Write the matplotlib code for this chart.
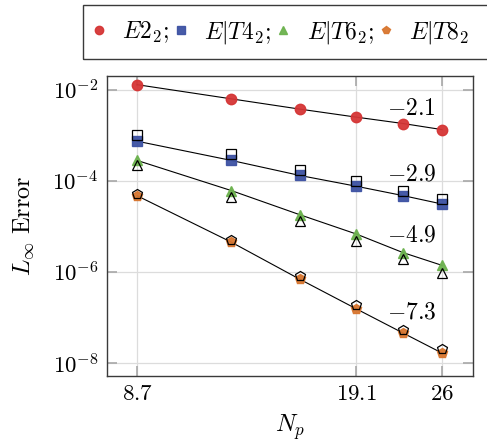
import matplotlib
matplotlib.use('Agg')
import matplotlib.pyplot as plt
from matplotlib.ticker import FixedLocator, FixedFormatter, NullLocator
from matplotlib.patches import Rectangle

plt.rcParams['mathtext.fontset'] = 'cm'
plt.rcParams['font.family'] = 'serif'
plt.rcParams['font.serif'] = ['cmr10', 'DejaVu Serif']

# number of points per direction
n_p = [8.7, 12.2, 15.6, 19.1, 22.6, 26.0]

# L-infinity errors
e2 = [1.29e-2, 6.3e-3, 3.75e-3, 2.5e-3, 1.81e-3, 1.33e-3]
et4 = [7.4e-4, 2.8e-4, 1.31e-4, 7.6e-5, 4.73e-5, 3.09e-5]
et6 = [2.8e-4, 6.1e-5, 1.8e-5, 6.8e-6, 2.65e-6, 1.39e-6]
et8 = [4.7e-5, 4.5e-6, 6.9e-7, 1.55e-7, 4.55e-8, 1.65e-8]

# reference runs (open markers)
et4_ref = [1.0e-3, 3.8e-4, 1.7e-4, 9.7e-5, 5.9e-5, 3.9e-5]
et6_ref = [2.18e-4, 4.5e-5, 1.28e-5, 4.7e-6, 1.96e-6, 9.6e-7]
et8_ref = [5.0e-5, 5.0e-6, 8.1e-7, 1.86e-7, 5.2e-8, 2.0e-8]

labels = [r'$E2_2;$', r'$E|T4_2;$', r'$E|T6_2;$', r'$E|T8_2$']
slopes = [r'$-2.1$', r'$-2.9$', r'$-4.9$', r'$-7.3$']
slope_pos = [(23.3, 3.7e-3), (23.3, 1.38e-4), (23.3, 6.3e-6), (23.3, 1.26e-7)]

x_ticks = [8.7, 19.1, 26]
x_ticklabels = ['$8.7$', '$19.1$', '$26$']
y_ticks = [1e-8, 1e-6, 1e-4, 1e-2]
y_ticklabels = ['$10^{-8}$', '$10^{-6}$', '$10^{-4}$', '$10^{-2}$']

colors = ['#d53535', '#3d52a3', '#6cb24e', '#d8762f']
markers = ['o', 's', '^', 'p']

fig = plt.figure(figsize=(4.87, 4.42), dpi=100)
ax = fig.add_axes([0.219, 0.149, 0.752, 0.680])
ax.set_xscale('log')
ax.set_yscale('log')

series = [e2, et4, et6, et8]
for ys, c, m, lab in zip(series, colors, markers, labels):
    ax.plot(n_p, ys, color='black', lw=0.8, zorder=2)
    ax.plot(n_p, ys, ls='none', marker=m, ms=7.5, mfc=c, mec=c, alpha=0.95,
            zorder=3, label=lab)

for ys, m in zip([et4_ref, et6_ref, et8_ref], markers[1:]):
    ax.plot(n_p, ys, ls='none', marker=m, ms=7, mfc='none', mec='black',
            mew=0.9, zorder=4)

for s, (x, y) in zip(slopes, slope_pos):
    ax.text(x, y, s, ha='center', va='center', fontsize=17)

ax.set_xlim(7.8, 29.05)
ax.set_ylim(10**-8.29, 10**-1.69)
ax.xaxis.set_major_locator(FixedLocator(x_ticks))
ax.xaxis.set_major_formatter(FixedFormatter(x_ticklabels))
ax.xaxis.set_minor_locator(NullLocator())
ax.yaxis.set_major_locator(FixedLocator(y_ticks))
ax.yaxis.set_major_formatter(FixedFormatter(y_ticklabels))
ax.yaxis.set_minor_locator(NullLocator())

ax.grid(True, color='#dcdcdc', lw=0.9, zorder=0)
ax.tick_params(which='major', direction='in', length=7, width=1.2,
               color='#a8a8a8', top=True, right=True, labelsize=16.5, pad=6)
for sp in ax.spines.values():
    sp.set_color('#3a3a3a')
    sp.set_linewidth(1.0)

ax.set_xlabel(r'$N_p$', fontsize=17.5, labelpad=6)
ax.set_ylabel(r'$L_\infty\ \mathrm{Error}$', fontsize=17.5, labelpad=12)

# legend frame runs past the right edge
fig.patches.append(Rectangle((0.170, 0.866), 0.9, 0.123, transform=fig.transFigure,
                             fill=False, ec='#3a3a3a', lw=1.0, clip_on=False))
fig.legend(loc='center left', bbox_to_anchor=(0.171, 0.927), ncol=4, frameon=False,
           fontsize=17, handlelength=0.5, handletextpad=0.75, columnspacing=0.25,
           markerscale=0.8, borderaxespad=0)

fig.savefig('out.png', dpi=100)
